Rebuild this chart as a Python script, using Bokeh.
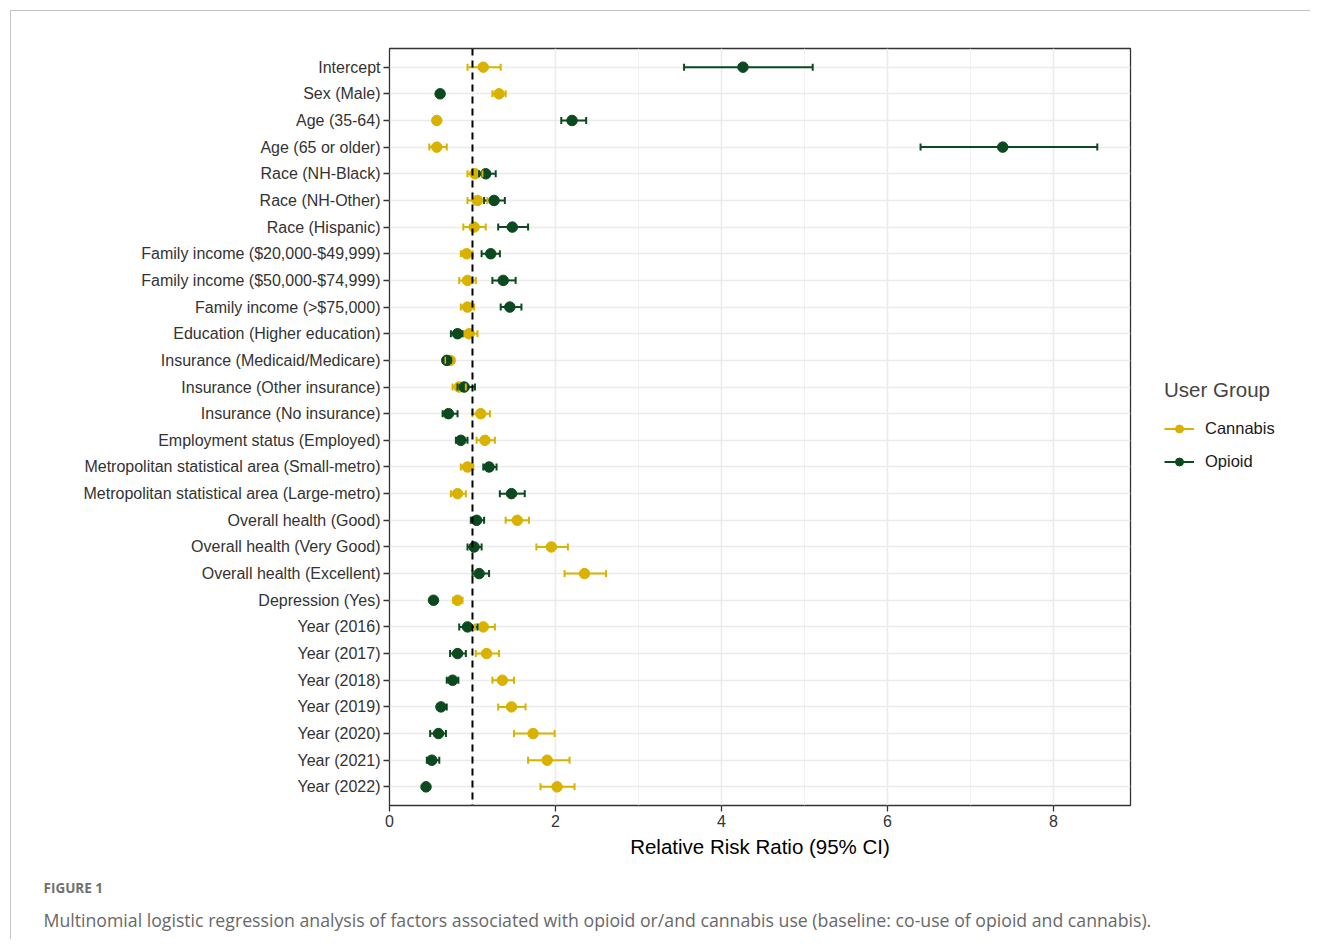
from bokeh.plotting import figure
from bokeh.layouts import row
from bokeh.models import (FactorRange, Range1d, Span, Whisker, TeeHead, ColumnDataSource,
                          Legend, LegendItem, Title, FixedTicker)
from bokeh.embed import file_html
from bokeh.resources import INLINE

categories = [
    "Intercept", "Sex (Male)", "Age (35-64)", "Age (65 or older)",
    "Race (NH-Black)", "Race (NH-Other)", "Race (Hispanic)",
    "Family income ($20,000-$49,999)", "Family income ($50,000-$74,999)",
    "Family income (>$75,000)", "Education (Higher education)",
    "Insurance (Medicaid/Medicare)", "Insurance (Other insurance)",
    "Insurance (No insurance)", "Employment status (Employed)",
    "Metropolitan statistical area (Small-metro)",
    "Metropolitan statistical area (Large-metro)",
    "Overall health (Good)", "Overall health (Very Good)",
    "Overall health (Excellent)", "Depression (Yes)",
    "Year (2016)", "Year (2017)", "Year (2018)", "Year (2019)",
    "Year (2020)", "Year (2021)", "Year (2022)",
]

cannabis_rr = [1.13, 1.32, 0.57, 0.57, 1.03, 1.06, 1.02, 0.93, 0.94, 0.94, 0.96, 0.73, 0.84, 1.10,
               1.15, 0.94, 0.82, 1.54, 1.95, 2.35, 0.82, 1.13, 1.17, 1.36, 1.47, 1.73, 1.90, 2.02]
cannabis_lo = [0.94, 1.24, 0.55, 0.48, 0.94, 0.94, 0.89, 0.86, 0.84, 0.86, 0.90, 0.67, 0.76, 1.00,
               1.05, 0.86, 0.74, 1.40, 1.77, 2.11, 0.77, 1.03, 1.04, 1.24, 1.31, 1.50, 1.67, 1.82]
cannabis_hi = [1.34, 1.40, 0.59, 0.69, 1.12, 1.18, 1.16, 1.00, 1.04, 1.02, 1.06, 0.78, 0.92, 1.21,
               1.27, 1.01, 0.92, 1.68, 2.15, 2.61, 0.88, 1.27, 1.32, 1.50, 1.64, 1.99, 2.17, 2.23]

opioid_rr = [4.26, 0.61, 2.20, 7.39, 1.16, 1.26, 1.48, 1.22, 1.37, 1.45, 0.82, 0.69, 0.90, 0.71,
             0.86, 1.20, 1.47, 1.05, 1.02, 1.08, 0.53, 0.94, 0.82, 0.76, 0.62, 0.59, 0.51, 0.44]
opioid_lo = [3.55, 0.59, 2.07, 6.40, 1.08, 1.14, 1.31, 1.11, 1.24, 1.34, 0.74, 0.65, 0.82, 0.64,
             0.80, 1.13, 1.33, 0.98, 0.94, 1.00, 0.51, 0.84, 0.73, 0.69, 0.58, 0.49, 0.45, 0.42]
opioid_hi = [5.10, 0.63, 2.37, 8.53, 1.28, 1.39, 1.67, 1.33, 1.52, 1.59, 0.88, 0.74, 1.03, 0.82,
             0.94, 1.29, 1.63, 1.14, 1.11, 1.20, 0.55, 1.06, 0.92, 0.83, 0.69, 0.68, 0.60, 0.46]

groups = ["Cannabis", "Opioid"]
x_ticks = [0, 2, 4, 6, 8]
x_minor = [1, 3, 5, 7]

figure_tag = "FIGURE 1"
caption = ("Multinomial logistic regression analysis of factors associated with opioid "
           "or/and cannabis use (baseline: co-use of opioid and cannabis).")

CANNABIS = "#D9B200"
OPIOID = "#0B4A1F"
FONT = "Liberation Sans"

src_c = ColumnDataSource(dict(cat=categories, rr=cannabis_rr, lo=cannabis_lo, hi=cannabis_hi))
src_o = ColumnDataSource(dict(cat=categories, rr=opioid_rr, lo=opioid_lo, hi=opioid_hi))
sources = [src_c, src_o]
colors = [CANNABIS, OPIOID]

p = figure(frame_width=741, frame_height=757,
           y_range=FactorRange(factors=categories[::-1], range_padding=0.2,
                               range_padding_units="absolute"),
           x_range=Range1d(0, 8.93),
           output_backend="svg", toolbar_location=None,
           min_border_left=378, min_border_right=30, min_border_top=37, min_border_bottom=134)

p.outline_line_color = "#333333"
p.outline_line_width = 1.3
p.background_fill_color = "white"
p.border_fill_color = "white"

p.xaxis.ticker = FixedTicker(ticks=x_ticks, minor_ticks=x_minor)
p.xgrid.ticker = FixedTicker(ticks=x_ticks, minor_ticks=x_minor)
p.xgrid.grid_line_color = "#EBEBEB"
p.xgrid.grid_line_width = 1.6
p.xgrid.minor_grid_line_color = "#F0F0F0"
p.xgrid.minor_grid_line_width = 0.9
p.ygrid.grid_line_color = "#EBEBEB"
p.ygrid.grid_line_width = 1.6

for ax in (p.xaxis, p.yaxis):
    ax.axis_line_color = None
    ax.major_tick_line_color = "#333333"
    ax.major_tick_line_width = 1.3
    ax.major_tick_in = 0
    ax.major_tick_out = 6
    ax.minor_tick_line_color = None
    ax.major_label_text_font = FONT
    ax.major_label_text_font_size = "16px"
    ax.major_label_text_color = "#333333"
    ax.major_label_standoff = 3

p.xaxis.axis_label = "Relative Risk Ratio (95% CI)"
p.xaxis.axis_label_text_font = FONT
p.xaxis.axis_label_text_font_size = "20.5px"
p.xaxis.axis_label_text_font_style = "normal"
p.xaxis.axis_label_text_color = "black"
p.xaxis.axis_label_standoff = 5

# error bars (both groups), then points (both groups)
for src, col in zip(sources, colors):
    p.segment(x0="lo", x1="hi", y0="cat", y1="cat", source=src, line_color=col, line_width=2)
    w = Whisker(base="cat", lower="lo", upper="hi", dimension="width", source=src,
                line_alpha=0, level="glyph",
                lower_head=TeeHead(size=7, line_color=col, line_width=2),
                upper_head=TeeHead(size=7, line_color=col, line_width=2))
    p.add_layout(w)
for src, col in zip(sources, colors):
    p.scatter(x="rr", y="cat", source=src, size=10.5, marker="circle",
              fill_color=col, line_color=col)

p.add_layout(Span(location=1, dimension="height", line_color="black",
                  line_width=2, line_dash="7 5"))

p.add_layout(Title(text=figure_tag, align="left", offset=-346,
                   text_font="Open Sans", text_font_size="13.5px", text_color="#707070",
                   text_font_style="bold", standoff=32, text_line_height=0.6), "below")
try:
    cap_title = Title(text=caption, align="left", offset=-346,
                      text_font="Open Sans", text_font_size="17.7px", text_color="#686868",
                      text_font_style="normal", standoff=-14, text_line_height=0.6)
except Exception:
    cap_title = Title(text=caption, align="left", offset=-346,
                      text_font="Open Sans", text_font_size="17.7px", text_color="#686868",
                      text_font_style="normal", standoff=0, text_line_height=0.6)
p.add_layout(cap_title, "below")

# legend panel: same data sources, drawn outside its visible x window, used only as keys
lg = figure(width=150, height=928, x_range=Range1d(100, 101),
            y_range=FactorRange(factors=categories[::-1]),
            output_backend="svg", toolbar_location=None,
            x_axis_type=None, y_axis_type=None,
            min_border_left=0, min_border_right=0, min_border_top=37, min_border_bottom=134)
lg.outline_line_color = None
lg.grid.visible = False
lg.background_fill_alpha = 0
items = []
for name, src, col in zip(groups, sources, colors):
    r1 = lg.segment(x0="lo", x1="hi", y0="cat", y1="cat", source=src,
                    line_color=col, line_width=2)
    r2 = lg.scatter(x="rr", y="cat", source=src, size=10.5, marker="circle",
                    fill_color=col, line_color=col)
    items.append(LegendItem(label=name, renderers=[r1, r2], index=0))

legend = Legend(items=items, location="center_left", title="User Group",
                title_text_font=FONT, title_text_font_size="20.5px",
                title_text_font_style="normal", title_standoff=12,
                label_text_font=FONT, label_text_font_size="16.5px",
                label_text_color="#1a1a1a",
                glyph_width=30, glyph_height=20, label_height=30, label_standoff=11,
                spacing=3, padding=0, margin=4,
                border_line_color=None, background_fill_alpha=0)
lg.add_layout(legend, "center")

layout = row(p, lg, spacing=0,
             styles={"border-top": "1px solid #c4c4c4", "border-left": "1px solid #c4c4c4",
                     "margin-top": "10px", "margin-left": "10px"})

open("out.html", "w").write(file_html(layout, INLINE))
